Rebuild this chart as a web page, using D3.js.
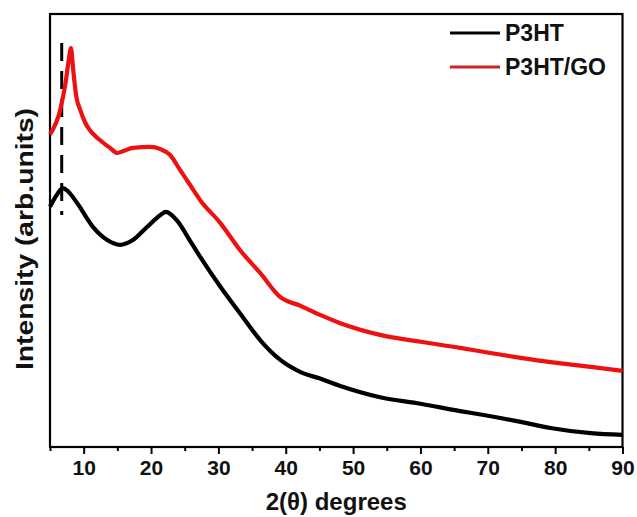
<!DOCTYPE html>
<html>
<head>
<meta charset="utf-8">
<style>
    body { margin: 0; background: #fff; }
    svg { display: block; font-family: "Liberation Sans", Arial, sans-serif; font-weight: bold; }
    .eixo text { font-size: 21px; font-weight: bold; fill: #111; }
</style>
<script src="https://cdn.jsdelivr.net/npm/d3@7"></script>
</head>
<body>
<svg width="637" height="517"></svg>
<script>
    // 2theta (degrees) and intensity (arb. units)
    var p3htTheta = [5.0, 6.0, 6.9, 7.7, 9.0, 11.4, 13.5, 15.4, 17.3, 19.4, 21.4, 22.2, 23.9, 25.8, 27.3, 30.3, 33.2, 36.2, 39.2, 42.2, 45.1, 48.1, 54.0, 60.0, 65.9, 69.4, 74.9, 79.3, 85.3, 90.0];
    var p3htI     = [555, 582, 598, 590, 564, 508, 478, 467, 478, 508, 536, 543, 522, 476, 439, 370, 309, 247, 201, 173, 158, 141, 115, 100, 83, 74, 58, 44, 32, 28];

    var goTheta = [5.0, 6.5, 7.3, 7.75, 8.12, 8.45, 8.9, 9.5, 10.2, 10.9, 12.4, 13.9, 15.0, 16.0, 17.3, 19.9, 21.4, 22.8, 24.3, 25.8, 27.3, 30.3, 33.2, 36.2, 39.2, 42.2, 45.1, 48.1, 54.0, 60.0, 65.9, 70.4, 74.9, 79.3, 85.3, 90.0];
    var goI     = [722, 778, 840, 890, 921, 870, 810, 778, 750, 732, 709, 691, 679, 684, 691, 693, 688, 675, 640, 605, 570, 517, 455, 402, 346, 326, 305, 286, 259, 243, 229, 217, 206, 196, 185, 176];

    var xTicks = [10, 20, 30, 40, 50, 60, 70, 80, 90];
    var xMinorTicks = [5, 15, 25, 35, 45, 55, 65, 75, 85];
    var markerTheta = 6.74;
    var markerRange = [536, 933];

    var seriesNames = ["P3HT", "P3HT/GO"];
    var seriesColors = ["#000000", "#ee1111"];

    var svg = d3.select("svg");
    var margem = { esq: 50, dir: 622.5, topo: 14, base: 447 };

    var x = d3.scaleLinear().domain([5, 90]).range([margem.esq, margem.dir]);
    var y = d3.scaleLinear().domain([0, 1000]).range([margem.base, margem.topo]);

    // minor ticks
    var minor = svg.append("g")
        .attr("transform", "translate(0," + margem.base + ")")
        .call(d3.axisBottom(x).tickValues(xMinorTicks).tickSize(4).tickFormat(""));
    minor.select(".domain").remove();
    minor.selectAll("line").attr("stroke", "#000").attr("stroke-width", 2);

    // major ticks and labels
    var xAxis = svg.append("g")
        .attr("class", "eixo")
        .attr("transform", "translate(0," + margem.base + ")")
        .call(d3.axisBottom(x).tickValues(xTicks).tickSize(7).tickPadding(6).tickFormat(d3.format("d")));
    xAxis.select(".domain").remove();
    xAxis.selectAll("line").attr("stroke", "#000").attr("stroke-width", 2);
    xAxis.attr("font-family", null).attr("font-size", null);

    // frame
    svg.append("rect")
        .attr("x", margem.esq).attr("y", margem.topo)
        .attr("width", margem.dir - margem.esq).attr("height", margem.base - margem.topo)
        .attr("fill", "none").attr("stroke", "#000").attr("stroke-width", 2.2);

    // dashed marker line
    svg.append("line")
        .attr("x1", x(markerTheta)).attr("x2", x(markerTheta))
        .attr("y1", y(markerRange[1])).attr("y2", y(markerRange[0]))
        .attr("stroke", "#000").attr("stroke-width", 3)
        .attr("stroke-dasharray", "18,10");

    var line = d3.line()
        .x(function (d) { return x(d[0]); })
        .y(function (d) { return y(d[1]); })
        .curve(d3.curveMonotoneX);

    var series = [
        d3.zip(p3htTheta, p3htI),
        d3.zip(goTheta, goI)
    ];

    svg.selectAll(".serie")
        .data(series)
        .enter().append("path")
        .attr("class", "serie")
        .attr("d", line)
        .attr("fill", "none")
        .attr("stroke", function (d, i) { return seriesColors[i]; })
        .attr("stroke-width", 4.2)
        .attr("stroke-linejoin", "round");

    // legend
    var legend = svg.append("g");
    seriesNames.forEach(function (nome, i) {
        var ly = 33 + i * 34;
        legend.append("line")
            .attr("x1", 450).attr("x2", 500)
            .attr("y1", ly).attr("y2", ly)
            .attr("stroke", i ? "#cc2222" : "#000").attr("stroke-width", 3);
        legend.append("text")
            .attr("x", 505).attr("y", ly + 8)
            .attr("font-size", 23)
            .attr("fill", "#111")
            .text(nome);
    });

    // axis titles
    svg.append("text")
        .attr("x", (margem.esq + margem.dir) / 2).attr("y", 510)
        .attr("text-anchor", "middle")
        .attr("font-size", 24)
        .attr("fill", "#111")
        .text("2(θ) degrees");

    svg.append("text")
        .attr("transform", "translate(33,239) rotate(-90)")
        .attr("text-anchor", "middle")
        .attr("font-size", 23)
        .attr("fill", "#111")
        .attr("textLength", 262)
        .attr("lengthAdjust", "spacingAndGlyphs")
        .text("Intensity (arb.units)");
</script>
</body>
</html>
